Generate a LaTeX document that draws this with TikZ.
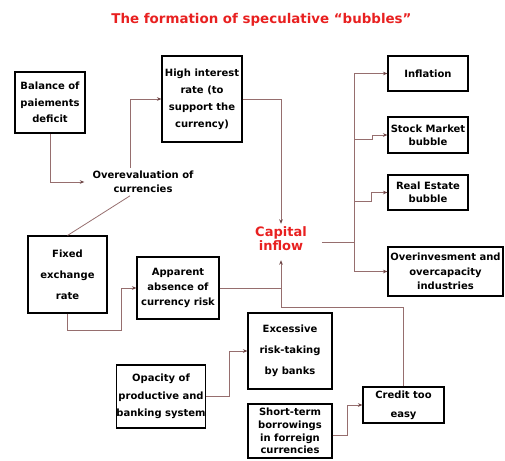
\documentclass[tikz,border=0pt]{standalone}
\usepackage{fontspec}
\setmainfont{DejaVu Sans}
\usetikzlibrary{arrows.meta,calc}
\definecolor{conn}{RGB}{150,110,110}
\definecolor{tipc}{RGB}{110,70,70}
\definecolor{titlered}{RGB}{232,32,32}
\newcommand\boxfont[1]{\fontsize{10}{#1}\selectfont\bfseries}
\begin{document}
\begin{tikzpicture}[x=1pt,y=-1pt,
  box/.style={draw=black,line width=1.1pt,inner sep=0pt,align=center},
  conline/.style={draw=conn,line width=0.8pt},
  arr/.style={conline,-{Stealth[length=4.5pt,width=3.6pt,color=tipc]}},
  lbl/.style={align=center,inner ysep=3pt}
]
\useasboundingbox (0,0) rectangle (505,460);
\node[text=titlered,font=\fontsize{13.4}{15}\selectfont\bfseries] (title) at (261.5,20) {The formation of speculative “bubbles”};

\node[box,minimum width=70pt,minimum height=61pt,font=\boxfont{16.5}] (bal) at (50,102.5) {Balance of\\paiements\\deficit};
\node[box,minimum width=80pt,minimum height=86pt,font=\boxfont{17}] (high) at (202,99) {High interest\\rate (to\\support the\\currency)};
\node[box,minimum width=80pt,minimum height=35pt,font=\boxfont{12}] (infl) at (428,73.5) {Inflation};
\node[box,minimum width=80pt,minimum height=36pt,font=\boxfont{13}] (stock) at (428,135) {Stock Market\\bubble};
\node[box,minimum width=80pt,minimum height=35pt,font=\boxfont{12.5}] (real) at (428,192.5) {Real Estate\\bubble};
\node[box,minimum width=115pt,minimum height=49pt,font=\boxfont{14.5}] (over) at (445.5,271.5) {Overinvesment and\\overcapacity\\industries};
\node[box,minimum width=79pt,minimum height=77pt,font=\boxfont{21}] (fixed) at (67.5,274.5) {Fixed\\exchange\\rate};
\node[box,minimum width=82pt,minimum height=62pt,font=\boxfont{15}] (appar) at (178,288) {Apparent\\absence of\\currency risk};
\node[box,minimum width=84pt,minimum height=76pt,font=\boxfont{21}] (exc) at (290,351) {Excessive\\risk-taking\\by banks};
\node[box,minimum width=84pt,minimum height=63pt,font=\boxfont{17.5}] (opac) at (161,396.5) {Opacity of\\productive and\\banking system};
\node[box,minimum width=84pt,minimum height=54pt,font=\boxfont{12.7}] (short) at (290,431) {Short-term\\borrowings\\in forreign\\currencies};
\node[box,minimum width=81pt,minimum height=36pt,font=\boxfont{19}] (credit) at (403.5,405) {Credit too\\easy};

\node[lbl,inner xsep=8pt,font=\boxfont{13.5}] (overval) at (143,182) {Overevaluation of\\currencies};
\node[lbl,inner xsep=15pt,text=titlered,font=\fontsize{13}{14}\selectfont\bfseries] (capital) at (281,239) {Capital\\inflow};

% connectors
\draw[arr] (bal.south) |- (overval.west);
\draw[arr] ([xshift=-13pt]overval.north) |- (high.west);
\draw[conline] (fixed.north) -- ([xshift=-13pt]overval.south);
\draw[arr] (high.east) -| (capital.north);
\draw[arr] (fixed.south) -- ++(0,17) -| ($(appar.west)+(-15,0)$) -- (appar.west);
\draw[arr] (appar.east) -| ([yshift=-6pt]capital.south);
\coordinate (j1) at (281,307);
\draw[conline] (credit.north) |- (j1) -- (j1 |- appar.east);
\draw[arr] (opac.east) -- ++(23,0) |- (exc.west);
\draw[arr] ([yshift=-4pt]short.east) -- ++(15,0) |- (credit.west);

\coordinate (trunk) at (354,242);
\draw[conline] (trunk -| capital.east) -- (trunk);
\draw[arr] (trunk) |- (infl.west);
\draw[arr] (trunk) |- (over.west);
\draw[arr] (trunk |- 0,139) -- ++(18,0) |- (stock.west);
\draw[arr] (trunk |- 0,201) -- ++(17,0) |- (real.west);
\end{tikzpicture}
\end{document}
